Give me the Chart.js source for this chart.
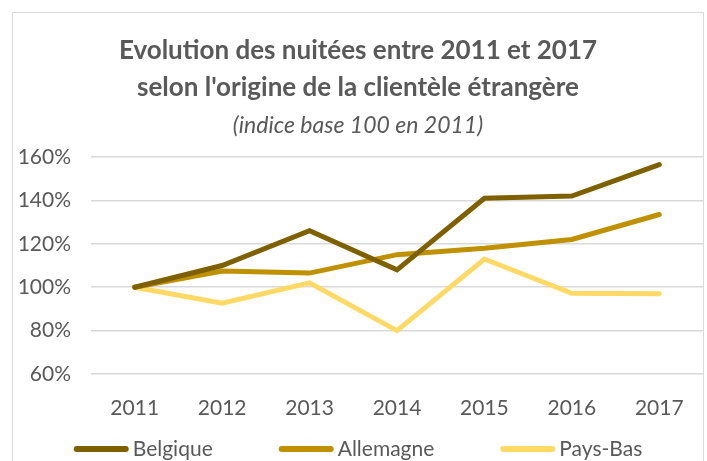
<!DOCTYPE html>
<html>
<head>
<meta charset="utf-8">
<script src="https://cdn.jsdelivr.net/npm/chart.js@4/dist/chart.umd.min.js"></script>
<style>
  html, body { margin: 0; padding: 0; background: #fff; overflow: hidden; }
  #frame {
    position: absolute; left: 12px; top: 12px;
    width: 690px; height: 470px;
    border: 1px solid #d9d9d9;
  }
  #wrap { position: relative; width: 690px; height: 448px; }
</style>
</head>
<body>
<div id="frame"><div id="wrap"><canvas id="chart"></canvas></div></div>
<script>
const years = ['2011', '2012', '2013', '2014', '2015', '2016', '2017'];
const belgique = [100, 110, 126, 108, 141, 142, 156.5];
const allemagne = [100, 107.5, 106.5, 115, 118, 122, 133.5];
const paysBas = [100, 92.6, 102, 80, 113, 97.2, 97];

const textColor = '#595959';
const fontFamily = 'Lato, "Open Sans", sans-serif';

const makeSeries = (label, data, color) => ({
  label,
  data,
  borderColor: color,
  backgroundColor: color,
  borderWidth: 5,
  borderCapStyle: 'round',
  borderJoinStyle: 'miter',
  pointRadius: 0,
  tension: 0,
  fill: false
});

// legend drawn by hand so the gap between items can be wide (like Excel)
const lineLegend = {
  id: 'lineLegend',
  afterDraw(chart) {
    const ctx = chart.ctx;
    const markWidth = 55;
    const markGap = 4;
    const itemGap = 66;
    ctx.save();
    ctx.font = `21px ${fontFamily}`;
    const items = chart.data.datasets.map((ds) => ({
      text: ds.label,
      color: ds.borderColor,
      width: markWidth + markGap + ctx.measureText(ds.label).width
    }));
    const total = items.reduce((sum, item) => sum + item.width, 0) + itemGap * (items.length - 1);
    let x = (chart.width - total) / 2;
    const y = chart.scales.x.bottom - 12;
    items.forEach((item) => {
      ctx.strokeStyle = item.color;
      ctx.lineWidth = 6;
      ctx.lineCap = 'round';
      ctx.beginPath();
      ctx.moveTo(x + 3, y);
      ctx.lineTo(x + markWidth - 3, y);
      ctx.stroke();
      ctx.fillStyle = textColor;
      ctx.textBaseline = 'middle';
      ctx.textAlign = 'left';
      ctx.fillText(item.text, x + markWidth + markGap, y);
      x += item.width + itemGap;
    });
    ctx.restore();
  }
};

new Chart(document.getElementById('chart'), {
  type: 'line',
  data: {
    labels: years,
    datasets: [
      makeSeries('Belgique', belgique, '#7f6000'),
      makeSeries('Allemagne', allemagne, '#bf9000'),
      makeSeries('Pays-Bas', paysBas, '#ffd966')
    ]
  },
  options: {
    responsive: true,
    maintainAspectRatio: false,
    animation: false,
    layout: { padding: { left: 0, right: 0, top: 0, bottom: 0 } },
    plugins: {
      title: {
        display: true,
        text: ['Evolution des nuitées entre 2011 et 2017', "selon l'origine de la clientèle étrangère"],
        color: textColor,
        font: { family: fontFamily, size: 26, weight: 'bold', lineHeight: '37px' },
        padding: { top: 19, bottom: 0 }
      },
      subtitle: {
        display: true,
        text: '(indice base 100 en 2011)',
        color: textColor,
        font: { family: fontFamily, size: 23, style: 'italic', lineHeight: '30px' },
        padding: { top: 5, bottom: 16 }
      },
      legend: { display: false },
      tooltip: { enabled: false }
    },
    scales: {
      x: {
        offset: true,
        afterFit: (scale) => { scale.height = 87; },
        grid: { display: false },
        border: { display: false },
        ticks: {
          color: textColor,
          font: { family: fontFamily, size: 21 },
          padding: 14,
          maxRotation: 0,
          autoSkip: false
        }
      },
      y: {
        min: 60,
        max: 160,
        afterFit: (scale) => { scale.width = 78; },
        grid: { color: '#d9d9d9', lineWidth: 1.5, drawTicks: false },
        border: { display: false },
        ticks: {
          stepSize: 20,
          color: textColor,
          font: { family: fontFamily, size: 21 },
          padding: 20,
          callback: (value) => value + '%'
        }
      }
    }
  },
  plugins: [lineLegend]
});
</script>
</body>
</html>
